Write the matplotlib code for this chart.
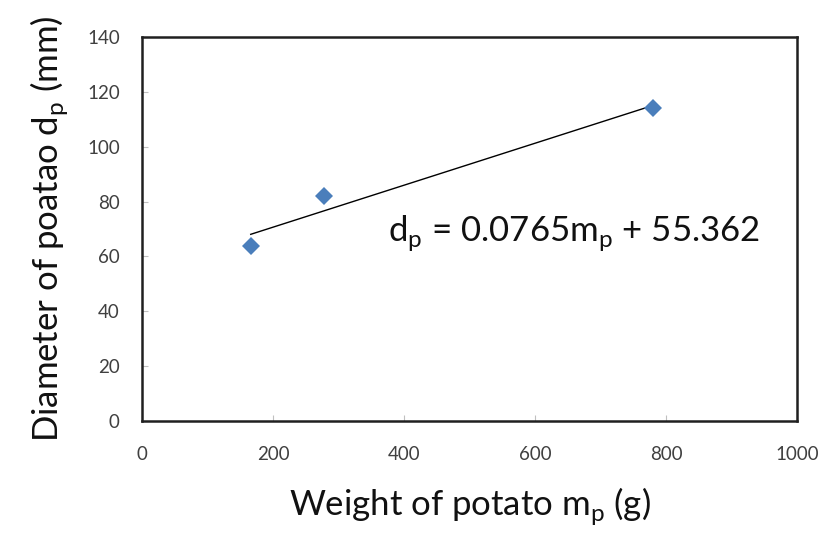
import numpy as np
import matplotlib.pyplot as plt

plt.rcParams["font.family"] = ["Lato", "DejaVu Sans"]

# ===== DATA =====
weight_g = [166, 278, 780]
diameter_mm = [63.8, 82.1, 114.0]
slope = 0.0765
intercept = 55.362
x_ticks = [0, 200, 400, 600, 800, 1000]
y_ticks = [0, 20, 40, 60, 80, 100, 120, 140]

# ===== PLOT =====
fig = plt.figure(figsize=(8.22, 5.38), dpi=100)
ax = fig.add_axes([142 / 822, 1 - 421 / 538, 655 / 822, 384 / 538])

fit_x = np.array([min(weight_g), max(weight_g)])
ax.plot(fit_x, slope * fit_x + intercept, color="black", lw=1.0, zorder=2)
ax.plot(weight_g, diameter_mm, "D", color="#4a7ebb", markersize=9,
        markeredgewidth=0, zorder=3)

ax.text(375, 68.5, r"d$_\mathregular{p}$ = 0.0765m$_\mathregular{p}$ + 55.362",
        fontsize=25, va="center", ha="left", color="#111111")

ax.set_xlim(0, 1000)
ax.set_ylim(0, 140)
ax.set_xticks(x_ticks)
ax.set_yticks(y_ticks)
ax.tick_params(direction="in", length=4, width=0.8, colors="#c0c0c0",
               labelcolor="#404040", labelsize=13.5, pad=18)
ax.tick_params(axis="y", pad=16)
for s in ax.spines.values():
    s.set_linewidth(1.8)
    s.set_color("#202020")

ax.set_xlabel(r"Weight of potato m$_\mathregular{p}$ (g)", fontsize=25,
              labelpad=16, color="#111111")
ax.set_ylabel(r"Diameter of poatao d$_\mathregular{p}$ (mm)", fontsize=25,
              labelpad=12, color="#111111")

fig.savefig("out.png", dpi=100)
